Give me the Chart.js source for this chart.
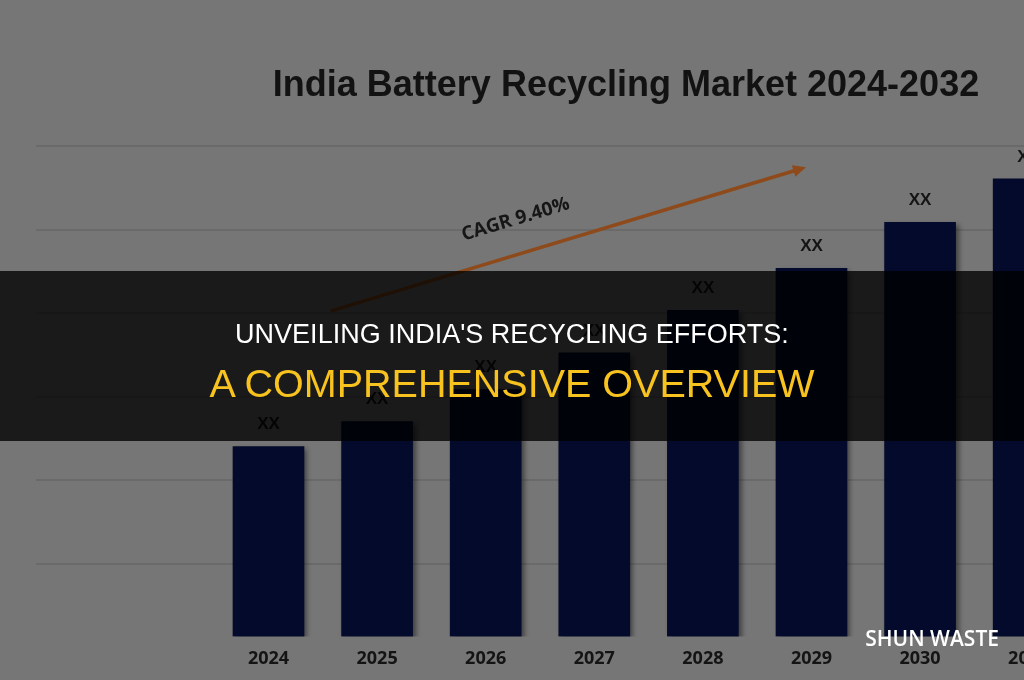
<!DOCTYPE html>
<html>
<head>
<meta charset="utf-8">
<title>India Battery Recycling Market 2024-2032</title>
<script src="https://cdn.jsdelivr.net/npm/chart.js@4.4.1/dist/chart.umd.min.js"></script>
<style>
  body { margin: 0; width: 1024px; height: 680px; overflow: hidden; background: #767676; position: relative; }
  #wrap { position: absolute; left: 0; top: 0; width: 1252px; height: 680px; }
  #banner { position: absolute; left: 0; top: 271px; width: 1024px; height: 170px; background: rgba(0, 0, 0, 0.78); }
  .headline { position: absolute; left: 0; width: 1024px; text-align: center; font-family: 'Liberation Sans', Arial, sans-serif; white-space: nowrap; }
  #line1 { top: 321px; font-size: 27px; line-height: 27px; color: #ffffff; }
  #line2 { top: 364px; font-size: 39.5px; line-height: 39.5px; color: #f8c31e; }
  #brand { position: absolute; right: 25px; top: 628px; font: 600 21px/21px 'Open Sans', sans-serif; color: #ffffff; white-space: nowrap; }
</style>
</head>
<body>
<div id="wrap"><canvas id="chart" width="1252" height="680"></canvas></div>
<div id="banner"></div>
<div class="headline" id="line1">UNVEILING INDIA'S RECYCLING EFFORTS:</div>
<div class="headline" id="line2">A COMPREHENSIVE OVERVIEW</div>
<div id="brand">SHUN WASTE</div>
<script>
'use strict';

// chart data (bar heights in grid-step units)
var years = [2024, 2025, 2026, 2027, 2028, 2029, 2030, 2031, 2032];
var marketSize = [2.27, 2.57, 2.95, 3.39, 3.90, 4.40, 4.95, 5.47, 5.98];
var barLabels = ['XX', 'XX', 'XX', 'XX', 'XX', 'XX', 'XX', 'XX', 'XX'];
var gridLevels = [0.865, 1.865, 2.865, 3.865, 4.865, 5.865];
var chartTitle = 'India Battery Recycling Market 2024-2032';
var cagrText = 'CAGR 9.40%';
var cagrFrom = { x: 2024.57, y: 3.89 };
var cagrTo = { x: 2028.95, y: 5.61 };

// soft drop shadow under the bars
var barShadow = {
  id: 'barShadow',
  beforeDatasetsDraw: function(chart) {
    var ctx = chart.ctx;
    ctx.save();
    ctx.shadowColor = 'rgba(0, 0, 0, 0.45)';
    ctx.shadowBlur = 5;
    ctx.shadowOffsetX = 3;
    ctx.shadowOffsetY = 3;
  },
  afterDatasetsDraw: function(chart) {
    chart.ctx.restore();
  }
};

// "XX" above each bar
var barTopLabels = {
  id: 'barTopLabels',
  afterDatasetsDraw: function(chart) {
    var ctx = chart.ctx;
    var meta = chart.getDatasetMeta(0);
    ctx.save();
    ctx.font = 'bold 17px "Liberation Sans", Arial, sans-serif';
    ctx.fillStyle = '#141414';
    ctx.textAlign = 'center';
    ctx.textBaseline = 'middle';
    meta.data.forEach(function(bar, i) {
      ctx.fillText(barLabels[i], bar.x, bar.y - 22);
    });
    ctx.restore();
  }
};

// growth arrow with the CAGR label
var cagrArrow = {
  id: 'cagrArrow',
  afterDatasetsDraw: function(chart) {
    var ctx = chart.ctx;
    var xs = chart.scales.x;
    var ys = chart.scales.y;
    var x1 = xs.getPixelForValue(cagrFrom.x);
    var y1 = ys.getPixelForValue(cagrFrom.y);
    var x2 = xs.getPixelForValue(cagrTo.x);
    var y2 = ys.getPixelForValue(cagrTo.y);
    var ang = Math.atan2(y2 - y1, x2 - x1);
    var len = Math.sqrt((x2 - x1) * (x2 - x1) + (y2 - y1) * (y2 - y1));

    ctx.save();
    ctx.translate(x1, y1);
    ctx.rotate(ang);
    ctx.strokeStyle = '#8e4a1a';
    ctx.fillStyle = '#8e4a1a';
    ctx.lineWidth = 3.5;
    ctx.beginPath();
    ctx.moveTo(0, 0);
    ctx.lineTo(len - 8, 0);
    ctx.stroke();
    ctx.beginPath();
    ctx.moveTo(len, 0);
    ctx.lineTo(len - 13, -6);
    ctx.lineTo(len - 13, 6);
    ctx.closePath();
    ctx.fill();

    // label sits above the line, a bit before its middle
    ctx.font = 'bold 19px "Open Sans", sans-serif';
    ctx.fillStyle = '#161616';
    ctx.textAlign = 'center';
    ctx.textBaseline = 'middle';
    ctx.fillText(cagrText, len * 0.41, -34);
    ctx.restore();
  }
};

var ctx = document.getElementById('chart').getContext('2d');
var chart = new Chart(ctx, {
  type: 'bar',
  data: {
    datasets: [{
      label: 'Market size',
      data: years.map(function(y, i) { return { x: y, y: marketSize[i] }; }),
      backgroundColor: '#030a2b',
      barThickness: 71
    }]
  },
  options: {
    responsive: false,
    animation: false,
    layout: { padding: { left: 36, right: 36, top: 0, bottom: -2 } },
    plugins: {
      legend: { display: false },
      tooltip: { enabled: false },
      title: {
        display: true,
        text: chartTitle,
        color: '#121212',
        font: { family: "'Liberation Sans', Arial, sans-serif", size: 36, weight: 'bold' },
        padding: { top: 64, bottom: 10 }
      }
    },
    scales: {
      x: {
        type: 'linear',
        min: 2021.859,
        max: 2032.725,
        offset: false,
        grid: { display: false, drawTicks: false },
        border: { display: false },
        afterBuildTicks: function(scale) {
          scale.ticks = years.map(function(v) { return { value: v }; });
        },
        ticks: {
          autoSkip: false,
          maxRotation: 0,
          padding: 12,
          color: '#141414',
          font: { family: "'Open Sans', sans-serif", size: 18, weight: 'bold' },
          callback: function(v) { return String(v); }
        }
      },
      y: {
        min: 0,
        max: 6.208,
        grid: { color: '#6a6a6a', lineWidth: 2, drawTicks: false },
        border: { display: false },
        ticks: { display: false },
        afterBuildTicks: function(scale) {
          scale.ticks = gridLevels.map(function(v) { return { value: v }; });
        }
      }
    }
  },
  plugins: [barShadow, barTopLabels, cagrArrow]
});
</script>
</body>
</html>
